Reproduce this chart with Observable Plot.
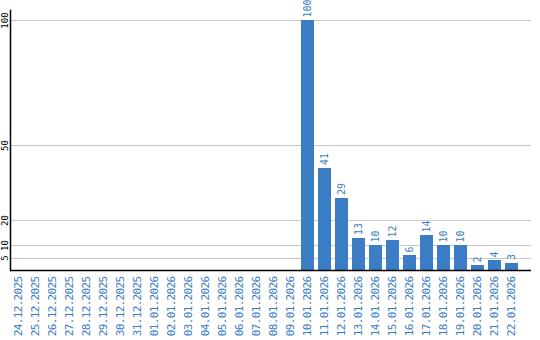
<!DOCTYPE html>
<html>
<head>
<meta charset="utf-8">
<script src="https://cdn.jsdelivr.net/npm/d3@7"></script>
<script src="https://cdn.jsdelivr.net/npm/@observablehq/plot@0.6"></script>
<style>
  html, body { margin: 0; padding: 0; background: #fff; }
  .cx g[aria-label="x-axis tick label"] text { letter-spacing: -0.65px; }
</style>
</head>
<body>
<div id="chart"></div>
<script>
const dates = [
  "24.12.2025", "25.12.2025", "26.12.2025", "27.12.2025", "28.12.2025",
  "29.12.2025", "30.12.2025", "31.12.2025", "01.01.2026", "02.01.2026",
  "03.01.2026", "04.01.2026", "05.01.2026", "06.01.2026", "07.01.2026",
  "08.01.2026", "09.01.2026", "10.01.2026", "11.01.2026", "12.01.2026",
  "13.01.2026", "14.01.2026", "15.01.2026", "16.01.2026", "17.01.2026",
  "18.01.2026", "19.01.2026", "20.01.2026", "21.01.2026", "22.01.2026"
];
const values = [
  0, 0, 0, 0, 0, 0, 0, 0, 0, 0,
  0, 0, 0, 0, 0, 0, 0, 100, 41, 29,
  13, 10, 12, 6, 14, 10, 10, 2, 4, 3
];
const yTicks = [5, 10, 20, 50, 100];

const blue = "#3b7dc4";
const data = dates.map((d, i) => ({date: d, value: values[i]}));
const labeled = data.filter(d => d.value > 0);

const chart = Plot.plot({
  className: "cx",
  width: 540,
  height: 340,
  marginLeft: 10,
  marginRight: 9,
  marginTop: 10,
  marginBottom: 70,
  style: {fontFamily: "DejaVu Sans Mono", background: "#fff"},
  x: {domain: dates, range: [10, 520], paddingInner: 0.18, paddingOuter: 0.09, round: false},
  y: {domain: [0, 100], range: [270, 20], axis: null},
  marks: [
    Plot.ruleY(yTicks, {stroke: "#c8c8c8", strokeWidth: 1, shapeRendering: "crispEdges"}),
    Plot.barY(data, {x: "date", y: "value", fill: blue, shapeRendering: "crispEdges"}),
    Plot.text(labeled, {
      x: "date", y: "value", text: d => String(d.value),
      rotate: -90, textAnchor: "start", lineAnchor: "middle",
      dy: -3, fill: blue, fontSize: 10, fontFamily: "DejaVu Sans Mono"
    }),
    Plot.text(yTicks, {
      y: d => d, text: d => String(d), frameAnchor: "left",
      rotate: -90, textAnchor: "middle", lineAnchor: "bottom",
      dx: -3, fill: "#000", fontSize: 9, fontFamily: "DejaVu Sans Mono"
    }),
    Plot.axisX({
      tickRotate: -90, tickSize: 0, tickPadding: 6, fill: blue, color: blue,
      fontSize: 11, fontFamily: "DejaVu Sans Mono", label: null, dx: -1
    }),
    Plot.frame({anchor: "left", stroke: "#000", strokeWidth: 1.5}),
    Plot.ruleY([0], {stroke: "#000", strokeWidth: 1.5})
  ]
});
document.getElementById("chart").appendChild(chart);
</script>
</body>
</html>
